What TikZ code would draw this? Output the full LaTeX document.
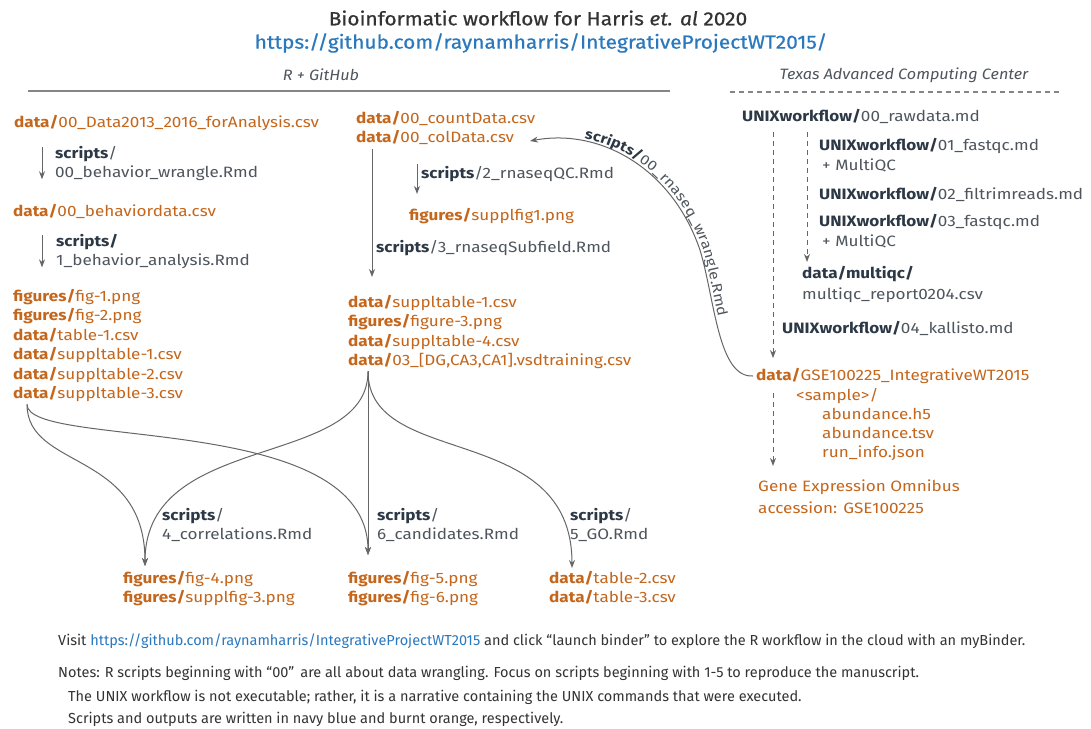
\documentclass[tikz,border=0pt]{standalone}
\usepackage{fontspec}
\setmainfont{Fira Sans}[FakeStretch=1.14]
\newfontfamily\notefont{Fira Sans}
\newfontfamily\titlefont[FakeBold=0.6,FakeStretch=1.1]{Fira Sans}
\newfontfamily\headfont[FakeStretch=1.08]{Fira Sans}
\usetikzlibrary{arrows.meta,decorations.text,calc}
\definecolor{burnt}{HTML}{C4661C}
\definecolor{navy}{HTML}{2C3845}
\definecolor{scrgray}{HTML}{4E555D}
\definecolor{arrgray}{HTML}{666666}
\definecolor{linkblue}{HTML}{2A78BE}
\definecolor{titlegray}{HTML}{333333}
\newcommand\scb[1]{{\bfseries\color{navy}#1}}
\newcommand\fsz{\fontsize{15}{19.5}\selectfont}
\newcommand\csz{\fontsize{14}{17}\selectfont}
\tikzset{
  base/.style={inner sep=0pt, anchor=west, font=\fsz},
  outf/.style={base, text=burnt},
  scr/.style={base, text=scrgray},
  listn/.style={inner sep=0pt, anchor=north west, align=left, text=burnt, font=\fsz},
  scrl/.style={listn, text=scrgray},
  arr/.style={draw=arrgray, line width=1pt, -{Stealth[length=8pt,width=6pt]}},
  darr/.style={arr, dash pattern=on 5pt off 4pt},
  note/.style={inner sep=0pt, anchor=west, text=titlegray, font=\notefont\fontsize{14.5}{17}\selectfont},
  head/.style={inner sep=0pt, text=scrgray, font=\headfont\itshape\fontsize{15}{18}\selectfont}
}
\begin{document}
\begin{tikzpicture}[x=1pt,y=-1pt]
\fill[white] (0,0) rectangle (1091,728);
\useasboundingbox (0,0) rectangle (1091,728);
% title
\node[inner sep=0pt, text=titlegray, font=\titlefont\fontsize{19}{22}\selectfont] (title) at (538,18) {Bioinformatic workflow for Harris \textit{et. al} 2020};
\node[inner sep=0pt, text=linkblue, font=\titlefont\fontsize{19}{22}\selectfont] (url) at (541,43) {https://github.com/raynamharris/IntegrativeProjectWT2015/};
% section heads
\node[head] (hR) at (321,75) {R + GitHub};
\node[head] (hT) at (904,75) {Texas Advanced Computing Center};
\draw[arrgray!80, line width=1.4pt] (28,91) coordinate (rl) -- (670,91) coordinate (rr);
\draw[arrgray!80, line width=1.2pt, dash pattern=on 5pt off 4pt] (730,92) coordinate (tl) -- (1062,92) coordinate (tr);
% left column
\node[outf] (d0) at (14,123) {\textbf{data/}00\_Data2013\_2016\_forAnalysis.csv};
\node[scrl] (s0) at (55,146) {\scb{scripts}/\\00\_behavior\_wrangle.Rmd};
\node[outf] (d1) at (13,211) {\textbf{data/}00\_behaviordata.csv};
\node[scrl] (s1) at (56,234) {\scb{scripts/}\\1\_behavior\_analysis.Rmd};
\node[listn] (o1) at (13,289) {\textbf{figures/}fig-1.png\\\textbf{figures/}fig-2.png\\\textbf{data/}table-1.csv\\\textbf{data/}suppltable-1.csv\\\textbf{data/}suppltable-2.csv\\\textbf{data/}suppltable-3.csv};
\draw[arr] ([xshift=-13pt,yshift=-1pt]s0.north west) -- ([xshift=-13pt,yshift=2pt]s0.south west);
\draw[arr] ([xshift=-14pt,yshift=-1pt]s1.north west) -- ([xshift=-14pt,yshift=2pt]s1.south west);
% middle column
\node[listn, font=\fontsize{15}{19}\selectfont] (cnt) at (356,111) {\textbf{data/}00\_countData.csv\\\textbf{data/}00\_colData.csv};
\node[scr] (q) at (421,174) {\scb{scripts}/2\_rnaseqQC.Rmd};
\node[outf] (sf1) at (409,216) {\textbf{figures/}supplfig1.png};
\node[scr] (sub) at (376,248) {\scb{scripts}/3\_rnaseqSubfield.Rmd};
\node[listn] (o3) at (348,295) {\textbf{data/}suppltable-1.csv\\\textbf{figures/}figure-3.png\\\textbf{data/}suppltable-4.csv\\\textbf{data/}03\_[DG,CA3,CA1].vsdtraining.csv};
\draw[arr] ([xshift=16pt,yshift=-4pt]cnt.south west) -- ([xshift=24pt,yshift=18pt]o3.north west);
\draw[arr] ([xshift=-4pt,yshift=2pt]q.north west) -- ([xshift=-4pt,yshift=-12pt]q.south west);
% bottom
\node[scrl] (s4) at (162,508) {\scb{scripts}/\\4\_correlations.Rmd};
\node[scrl] (s6) at (377,508) {\scb{scripts}/\\6\_candidates.Rmd};
\node[scrl] (s5) at (570,508) {\scb{scripts}/\\5\_GO.Rmd};
\node[listn] (o4) at (123,571) {\textbf{figures/}fig-4.png\\\textbf{figures/}supplfig-3.png};
\node[listn] (o5) at (348,571) {\textbf{figures/}fig-5.png\\\textbf{figures/}fig-6.png};
\node[listn] (o6) at (549,571) {\textbf{data/}table-2.csv\\\textbf{data/}table-3.csv};
\draw[arr] ([xshift=20pt,yshift=-2pt]o3.south west) -- ([xshift=20pt,yshift=16pt]o5.north west);
\draw[arr] ([xshift=20pt,yshift=-2pt]o3.south west) .. controls (368,470) and (145,430) .. ([xshift=22pt,yshift=5pt]o4.north west);
\draw[arr] ([xshift=20pt,yshift=-2pt]o3.south west) .. controls (368,470) and (572,420) .. ([xshift=23pt,yshift=3pt]o6.north west);
\draw[arr] ([xshift=14pt,yshift=-2pt]o1.south west) .. controls (27,470) and (145,450) .. ([xshift=22pt,yshift=5pt]o4.north west);
\draw[arr] ([xshift=14pt,yshift=-2pt]o1.south west) .. controls (27,450) and (368,410) .. ([xshift=20pt,yshift=16pt]o5.north west);
% right column
\node[scr] (raw) at (742,116) {\scb{UNIXworkflow/}00\_rawdata.md};
\node[scrl, font=\fontsize{15}{20}\selectfont] (u1) at (819,138) {\scb{UNIXworkflow/}01\_fastqc.md\\\hspace*{3pt}+ MultiQC};
\node[scr] (u2) at (819,194) {\scb{UNIXworkflow/}02\_filtrimreads.md};
\node[scrl, font=\fontsize{15}{20}\selectfont] (u3) at (819,214) {\scb{UNIXworkflow/}03\_fastqc.md\\\hspace*{3pt}+ MultiQC};
\node[scrl, font=\fontsize{15}{21}\selectfont] (mqc) at (802,266) {\scb{data/multiqc/}\\multiqc\_report0204.csv};
\node[scr] (u4) at (782,328) {\scb{UNIXworkflow/}04\_kallisto.md};
\node[outf] (gse) at (756,376) {\textbf{data/}GSE100225\_IntegrativeWT2015};
\node[listn, font=\fontsize{15}{19}\selectfont] (smp) at (796,388) {\textless sample\textgreater/\\\hspace*{26pt}abundance.h5\\\hspace*{26pt}abundance.tsv\\\hspace*{26pt}run\_info.json};
\node[listn, font=\fontsize{15}{22}\selectfont] (geo) at (758,480) {Gene Expression Omnibus\\accession: GSE100225};
\draw[darr] ([xshift=31pt,yshift=-9pt]raw.south west) -- ([xshift=17pt,yshift=10pt]gse.north west);
\draw[darr] ([xshift=65pt,yshift=-9pt]raw.south west) -- ([xshift=5pt,yshift=4pt]mqc.north west);
\draw[darr] ([xshift=17pt,yshift=-9pt]gse.south west) -- ([xshift=15pt,yshift=14pt]geo.north west);
% wrangle curve
\coordinate (wend) at ([xshift=174pt]cnt.south west |- 0,141);
\draw[arr] ([xshift=-3pt]gse.west) .. controls (718,378) and (715,300) .. (700,250) .. controls (672,168) and (600,128) .. (wend);
\path[decorate, decoration={text along path, raise=3pt, text align={left indent=54pt},
  text={|\csz\bfseries\color{navy}|scripts/|\csz\mdseries\color{scrgray}|00{\_}rnaseq{\_}wrangle.Rmd}}]
  (wend) .. controls (600,128) and (672,168) .. (700,250) .. controls (715,300) and (718,378) .. ([xshift=-3pt]gse.west);
% notes
\node[note] (n1) at (58,641) {Visit \textcolor{linkblue}{https://github.com/raynamharris/IntegrativeProjectWT2015} and click “launch binder” to explore the R workflow in the cloud with an myBinder.};
\node[note] (n2) at (58,673) {Notes: R scripts beginning with “00”\, are all about data wrangling. Focus on scripts beginning with 1-5 to reproduce the manuscript.};
\node[note] (n3) at (68,697) {The UNIX workflow is not executable; rather, it is a narrative containing the UNIX commands that were executed.};
\node[note] (n4) at (68,719) {Scripts and outputs are written in navy blue and burnt orange, respectively.};
\end{tikzpicture}
\end{document}
